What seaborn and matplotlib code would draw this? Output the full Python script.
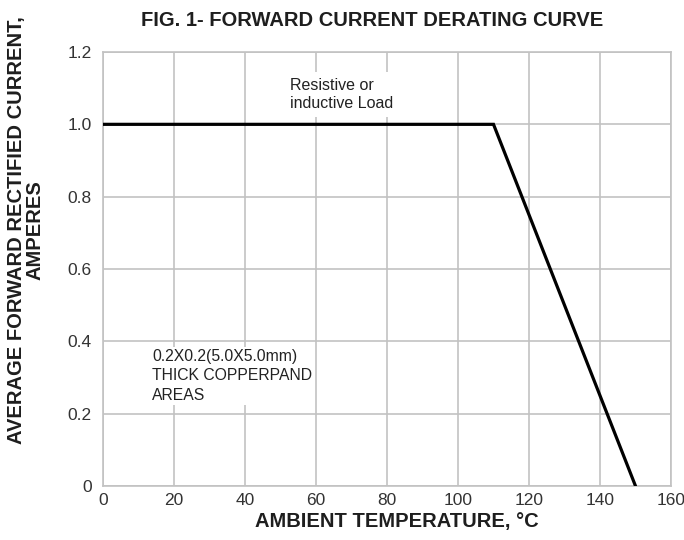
import matplotlib
matplotlib.use("Agg")
import matplotlib.pyplot as plt
import seaborn as sns
import pandas as pd

# Data
temperature = [0, 110, 150]
current = [1.0, 1.0, 0.0]
x_ticks = [0, 20, 40, 60, 80, 100, 120, 140, 160]
x_tick_labels = ["0", "20", "40", "60", "80", "100", "120", "140", "160"]
y_ticks = [0, 0.2, 0.4, 0.6, 0.8, 1.0, 1.2]
y_tick_labels = ["0", "0.2", "0.4", "0.6", "0.8", "1.0", "1.2"]

title = "FIG. 1- FORWARD CURRENT DERATING CURVE"
x_label = "AMBIENT TEMPERATURE, \u00b0C"
y_label = "AVERAGE FORWARD RECTIFIED CURRENT,\nAMPERES"
note_load = "Resistive or\ninductive Load"
note_pad = "0.2X0.2(5.0X5.0mm)\nTHICK COPPERPAND\nAREAS"

sns.set_theme(style="whitegrid")
plt.rcParams["font.family"] = ["Liberation Sans", "DejaVu Sans"]

df = pd.DataFrame({"temp": temperature, "current": current})

fig = plt.figure(figsize=(6.84, 5.40), dpi=100)
ax = fig.add_axes([103 / 684, 1 - 486 / 540, 568 / 684, 434 / 540])
ax.set_facecolor("white")

grid_c = "#c2c2c2"
sns.lineplot(data=df, x="temp", y="current", sort=False, color="black",
             linewidth=2.3, ax=ax, zorder=5, solid_joinstyle="miter")

ax.set_xlim(0, 160)
ax.set_ylim(0, 1.2)
ax.set_xticks(x_ticks)
ax.set_xticklabels(x_tick_labels)
ax.set_yticks(y_ticks)
ax.set_yticklabels(y_tick_labels)
ax.grid(True, color=grid_c, linewidth=1.2)
for s in ax.spines.values():
    s.set_color(grid_c)
    s.set_linewidth(1.2)
    s.set_visible(True)
ax.tick_params(axis="both", which="major", length=3, width=1.0, color=grid_c,
               labelsize=12.5, labelcolor="#333333", direction="out")
ax.tick_params(axis="y", pad=5)
ax.tick_params(axis="x", pad=2)

ax.set_xlabel(x_label, fontsize=14.5, fontweight="bold", color="#1e1e1e", va="center")
ax.xaxis.set_label_coords((397 - 103) / 568, (486 - 522) / 434)
ax.set_ylabel(y_label, fontsize=14.5, fontweight="bold", color="#1e1e1e",
              va="center", ha="center", multialignment="center", linespacing=0.95)
ax.yaxis.set_label_coords((26 - 103) / 568, (486 - 230) / 434)

fig.text(372.5 / 684, 1 - 20.5 / 540, title, fontsize=14.5, fontweight="bold",
         color="#1e1e1e", ha="center", va="center")

ax.text(52.7, 1.128, note_load, fontsize=11.5, color="#222222", ha="left", va="top",
        linespacing=1.25, zorder=3,
        bbox=dict(boxstyle="square,pad=0.35", facecolor="white", edgecolor="none"))
ax.text(13.8, 0.378, note_pad, fontsize=11.3, color="#222222", ha="left", va="top",
        linespacing=1.35, zorder=3,
        bbox=dict(boxstyle="square,pad=0.12", facecolor="white", edgecolor="none"))

fig.savefig("out.png", dpi=100, facecolor="white")
